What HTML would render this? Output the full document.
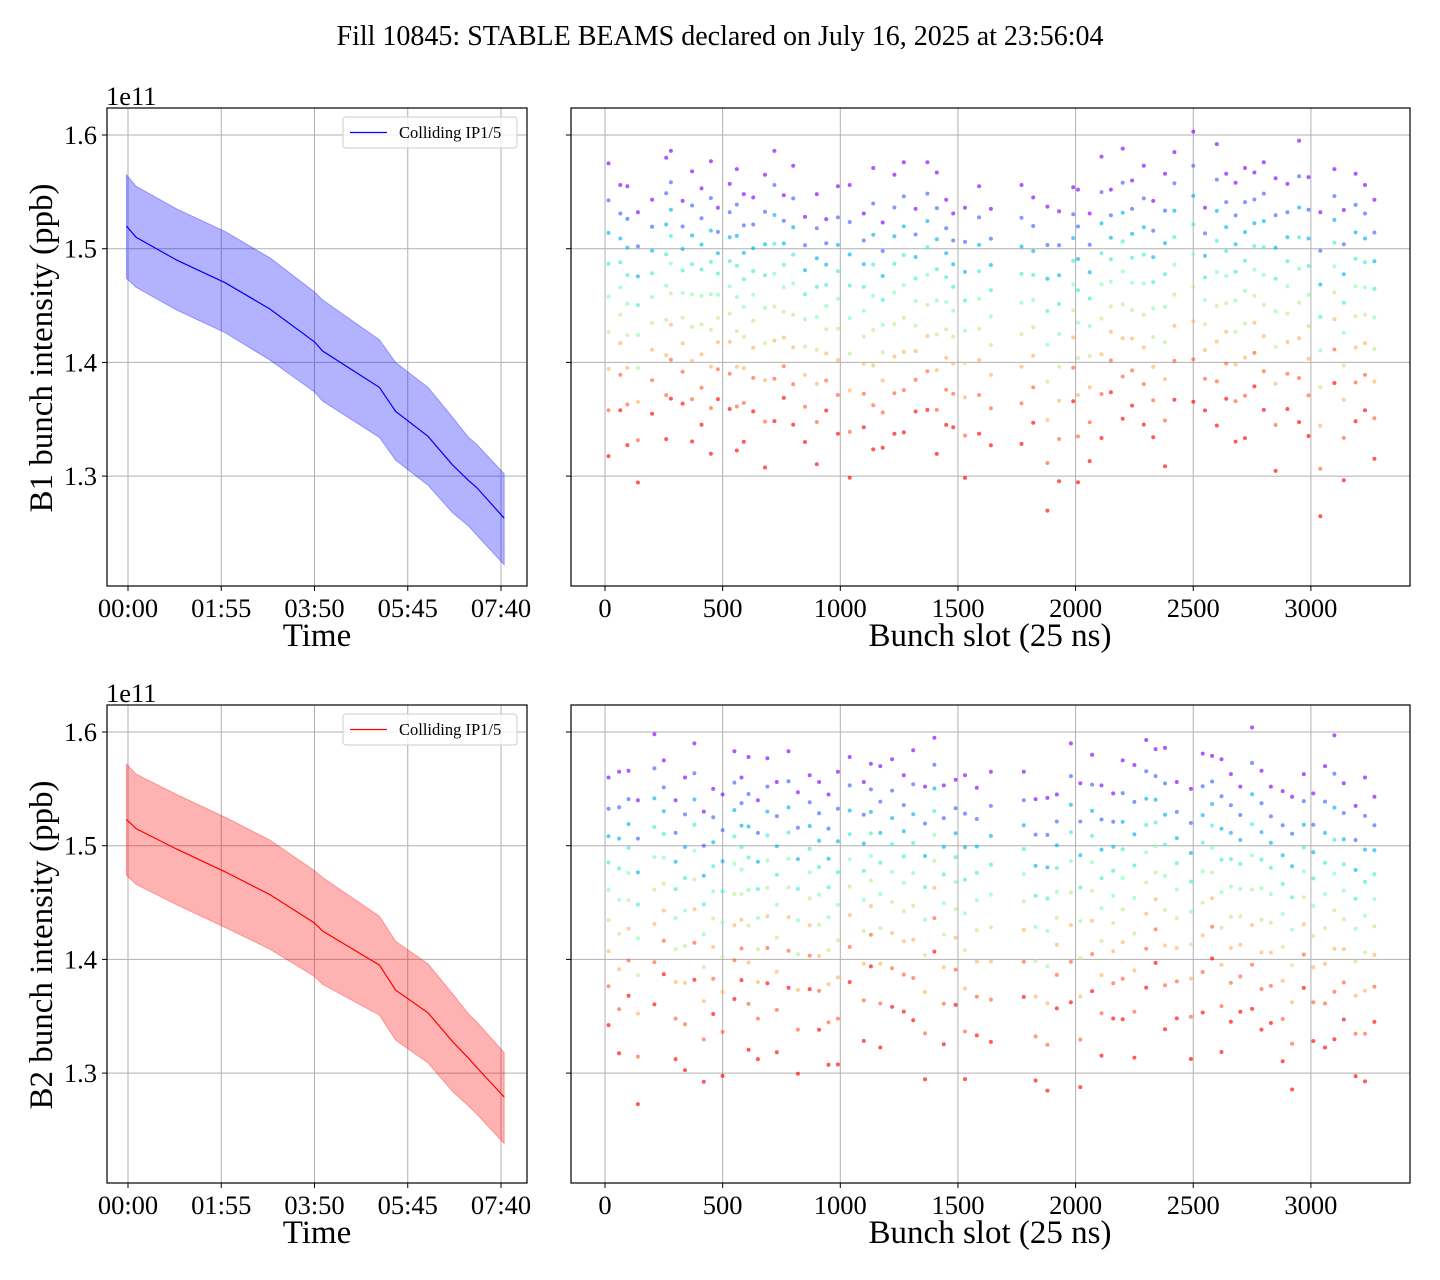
<!DOCTYPE html>
<html><head><meta charset="utf-8"><style>
body{margin:0;background:#fff}
svg{display:block;font-family:"Liberation Serif",serif}
</style></head><body>
<svg id="fig" width="1440" height="1280" viewBox="0 0 1440 1280" xmlns="http://www.w3.org/2000/svg">
<text x="720" y="45" text-anchor="middle" font-size="28">Fill 10845: STABLE BEAMS declared on July 16, 2025 at 23:56:04</text>
</svg>
<script>
// ---- time series data (minutes since stable beams, intensity in 1e11) ----
const timeMin = [-2, 10, 60, 120, 175, 230, 240, 310, 330, 370, 400, 420, 430, 464];
const b1Mean  = [1.520, 1.510, 1.490, 1.470, 1.447, 1.418, 1.410, 1.378, 1.357, 1.335, 1.310, 1.296, 1.290, 1.263];
const b1Upper = [1.565, 1.555, 1.535, 1.515, 1.492, 1.462, 1.455, 1.420, 1.400, 1.378, 1.352, 1.334, 1.328, 1.302];
const b1Lower = [1.474, 1.466, 1.446, 1.426, 1.402, 1.374, 1.366, 1.334, 1.314, 1.292, 1.268, 1.256, 1.248, 1.222];
const b2Mean  = [1.523, 1.515, 1.497, 1.477, 1.457, 1.432, 1.425, 1.395, 1.373, 1.353, 1.328, 1.313, 1.305, 1.279];
const b2Upper = [1.572, 1.563, 1.545, 1.525, 1.505, 1.478, 1.472, 1.438, 1.416, 1.396, 1.370, 1.352, 1.345, 1.318];
const b2Lower = [1.474, 1.466, 1.448, 1.428, 1.409, 1.385, 1.378, 1.351, 1.329, 1.309, 1.284, 1.271, 1.264, 1.238];
const timeTicks = [0, 115, 230, 345, 460];
const timeTickLabels = ["00:00", "01:55", "03:50", "05:45", "07:40"];
const yTicks = [1.3, 1.4, 1.5, 1.6];
const yTickLabels = ["1.3", "1.4", "1.5", "1.6"];
const slotTicks = [0, 500, 1000, 1500, 2000, 2500, 3000];
// ---- bunch-by-bunch data ----
const b1Slots = [15,65,95,140,200,260,280,330,370,410,450,480,530,560,590,630,680,720,760,800,850,900,940,990,1040,1100,1140,1180,1230,1270,1320,1370,1410,1450,1480,1530,1590,1640,1770,1820,1880,1930,1990,2010,2060,2110,2150,2200,2240,2290,2330,2380,2420,2500,2550,2600,2640,2680,2720,2760,2800,2850,2900,2950,2990,3040,3100,3140,3190,3230,3270];
const b1First = [1.575,1.556,1.555,1.532,1.543,1.580,1.586,1.542,1.568,1.553,1.577,1.536,1.557,1.570,1.548,1.545,1.565,1.586,1.547,1.573,1.528,1.548,1.526,1.555,1.556,1.531,1.571,1.523,1.565,1.576,1.535,1.576,1.567,1.543,1.531,1.536,1.555,1.535,1.556,1.545,1.537,1.533,1.554,1.552,1.531,1.581,1.552,1.588,1.560,1.573,1.542,1.566,1.585,1.603,1.536,1.592,1.566,1.558,1.571,1.567,1.576,1.562,1.557,1.595,1.563,1.532,1.570,1.534,1.566,1.556,1.543];
const b1Spread = [1.3,1.0,1.15,1.2,0.95,1.25,1.1,0.9,1.2,1.05,1.3,0.85,1.0,1.25,1.1,0.95,1.3,1.2,0.9,1.15,1.0,1.2,0.85,1.1,1.3,0.95,1.25,1.0,1.15,1.2,0.9,1.1,1.25,1.0,0.95,1.2,1.1,1.05,1.15,1.0,1.35,1.2,0.95,1.3,1.1,1.25,0.9,1.2,1.0,1.15,1.05,1.3,1.1,1.2,0.9,1.25,1.0,1.15,1.2,0.95,1.1,1.3,1.0,1.25,1.15,1.35,0.95,1.2,1.1,1.0,1.15];
const b2Slots = [15,60,100,140,210,250,300,340,380,420,460,500,550,580,610,650,690,730,780,820,870,910,950,990,1040,1100,1130,1170,1220,1270,1310,1360,1400,1440,1490,1530,1580,1640,1780,1830,1880,1920,1980,2020,2070,2110,2160,2200,2250,2300,2340,2380,2430,2490,2540,2580,2620,2660,2700,2750,2790,2830,2880,2920,2970,3010,3060,3100,3140,3190,3230,3270];
const b2First = [1.560,1.565,1.566,1.540,1.598,1.575,1.540,1.560,1.590,1.530,1.550,1.545,1.583,1.560,1.578,1.540,1.577,1.556,1.583,1.547,1.562,1.556,1.545,1.565,1.578,1.556,1.572,1.570,1.576,1.562,1.584,1.552,1.595,1.553,1.558,1.562,1.551,1.565,1.565,1.541,1.542,1.545,1.590,1.555,1.580,1.553,1.546,1.575,1.571,1.593,1.585,1.586,1.556,1.550,1.581,1.579,1.576,1.563,1.552,1.604,1.566,1.552,1.548,1.543,1.563,1.546,1.570,1.597,1.555,1.535,1.560,1.543];
const b2Spread = [1.1,1.25,1.0,1.35,1.2,0.95,1.15,1.3,1.05,1.2,1.0,1.25,1.1,0.9,1.3,1.15,1.0,1.2,1.05,1.25,0.95,1.1,1.2,1.3,1.0,1.15,0.9,1.25,1.1,1.05,1.2,1.3,0.95,1.15,1.0,1.35,1.1,1.2,1.0,1.25,1.3,0.95,1.15,1.35,1.05,1.2,1.0,1.15,1.3,1.1,0.95,1.25,1.05,1.2,1.15,0.9,1.3,1.1,1.0,1.25,1.15,1.05,1.2,1.3,0.95,1.1,1.25,1.35,1.05,1.2,1.35,1.0];
const snapshotDrops = [0, 0.025, 0.047, 0.068, 0.09, 0.114, 0.139, 0.167, 0.198];

const NS = "http://www.w3.org/2000/svg";
const svg = document.getElementById("fig");
function el(tag, attrs, parent) {
  const e = document.createElementNS(NS, tag);
  for (const k in attrs) e.setAttribute(k, attrs[k]);
  (parent || svg).appendChild(e);
  return e;
}
function rainbow(x) {
  const r = Math.min(1, Math.abs(2 * x - 0.5));
  const g = Math.sin(Math.PI * x);
  const b = Math.cos(Math.PI * x / 2);
  return `rgb(${Math.round(r*255)},${Math.round(g*255)},${Math.round(b*255)})`;
}

function drawPanel(top, beam, mean, upper, lower, color, fill, slots, first, spread) {
  const H = 478, yb = top + H;
  const yS = v => top + 27 + (1.6 - v) * 1137;
  const L = 107, R = 527;
  const xT = m => 128 + m * (93.25 / 115);
  const gL = el("g", {});
  
  
  timeTicks.forEach((t, i) => {
    const x = xT(t);
    el("line", {x1:x, x2:x, y1:top, y2:yb, stroke:"#b0b0b0", "stroke-width":1}, gL);
    el("line", {x1:x, x2:x, y1:yb, y2:yb+5, stroke:"#000", "stroke-width":1}, gL);
    const tx = el("text", {x:x, y:yb+31, "text-anchor":"middle", "font-size":26.5}, gL);
    tx.textContent = timeTickLabels[i];
    
    
  });
  yTicks.forEach((v, i) => {
    const y = yS(v);
    el("line", {x1:L, x2:R, y1:y, y2:y, stroke:"#b0b0b0", "stroke-width":1}, gL);
    el("line", {x1:L-5, x2:L, y1:y, y2:y, stroke:"#000", "stroke-width":1}, gL);
    const tx = el("text", {x:L-10, y:y+9, "text-anchor":"end", "font-size":26.5}, gL);
    tx.textContent = yTickLabels[i];
    
    
  });
  let band = "";
  timeMin.forEach((t, i) => band += (i ? "L" : "M") + xT(t).toFixed(1) + "," + yS(upper[i]).toFixed(1));
  for (let i = timeMin.length - 1; i >= 0; i--) band += "L" + xT(timeMin[i]).toFixed(1) + "," + yS(lower[i]).toFixed(1);
  const bp = el("path", {d: band + "Z", fill: fill, "fill-opacity": 0.3, stroke: fill, "stroke-opacity":0.3}, gL);
  
  
  let ln = "";
  timeMin.forEach((t, i) => ln += (i ? "L" : "M") + xT(t).toFixed(1) + "," + yS(mean[i]).toFixed(1));
  const lp = el("path", {d: ln, fill: "none", stroke: color, "stroke-width": 1.2}, gL);
  
  
  el("rect", {x:L, y:top, width:R-L, height:H, fill:"none", stroke:"#000", "stroke-width":1.2}, gL);
  const lg = el("g", {}, gL);
  
  
  el("rect", {x:343, y:top+9, width:174, height:31, rx:3, fill:"#fff", "fill-opacity":0.8, stroke:"#ccc"}, lg);
  el("line", {x1:350, x2:387, y1:top+24.5, y2:top+24.5, stroke:color, "stroke-width":1.2}, lg);
  const lt = el("text", {x:399, y:top+30, "font-size":16.5}, lg);
  lt.textContent = "Colliding IP1/5";
  
  
  const ex = el("text", {x:106, y:top-3, "font-size":26.5}, gL);
  ex.textContent = "1e11";
  
  
  const yl = el("text", {x:0, y:0, "text-anchor":"middle", "font-size":33, transform:`translate(52,${top+240}) rotate(-90)`}, gL);
  yl.textContent = beam + " bunch intensity (ppb)";
  
  
  const xl = el("text", {x:317, y:yb+60, "text-anchor":"middle", "font-size":33}, gL);
  xl.textContent = "Time";
  
  

  const L2 = 571, R2 = 1410;
  const xS = s => 605 + s * 0.2353;
  const gR = el("g", {});
  
  
  slotTicks.forEach(s => {
    const x = xS(s);
    el("line", {x1:x, x2:x, y1:top, y2:yb, stroke:"#b0b0b0", "stroke-width":1}, gR);
    el("line", {x1:x, x2:x, y1:yb, y2:yb+5, stroke:"#000", "stroke-width":1}, gR);
    const tx = el("text", {x:x, y:yb+31, "text-anchor":"middle", "font-size":26.5}, gR);
    tx.textContent = String(s);
    
    
  });
  yTicks.forEach(v => {
    const y = yS(v);
    el("line", {x1:L2, x2:R2, y1:y, y2:y, stroke:"#b0b0b0", "stroke-width":1}, gR);
    el("line", {x1:L2-5, x2:L2, y1:y, y2:y, stroke:"#000", "stroke-width":1}, gR);
  });
  const nS = snapshotDrops.length;
  slots.forEach((s, i) => {
    snapshotDrops.forEach((d, k) => {
      const c = el("circle", {cx: xS(s).toFixed(1), cy: yS(first[i] - d * spread[i]).toFixed(1), r: 2, fill: rainbow(k / (nS - 1)), "fill-opacity": 0.65}, gR);
      
      
    });
  });
  el("rect", {x:L2, y:top, width:R2-L2, height:H, fill:"none", stroke:"#000", "stroke-width":1.2}, gR);
  const xl2 = el("text", {x:990, y:yb+60, "text-anchor":"middle", "font-size":33}, gR);
  xl2.textContent = "Bunch slot (25 ns)";
  
  
}

drawPanel(108, "B1", b1Mean, b1Upper, b1Lower, "#0000ff", "#0000ff", b1Slots, b1First, b1Spread);
drawPanel(705, "B2", b2Mean, b2Upper, b2Lower, "#ff0000", "#ff0000", b2Slots, b2First, b2Spread);
</script>
</body></html>
